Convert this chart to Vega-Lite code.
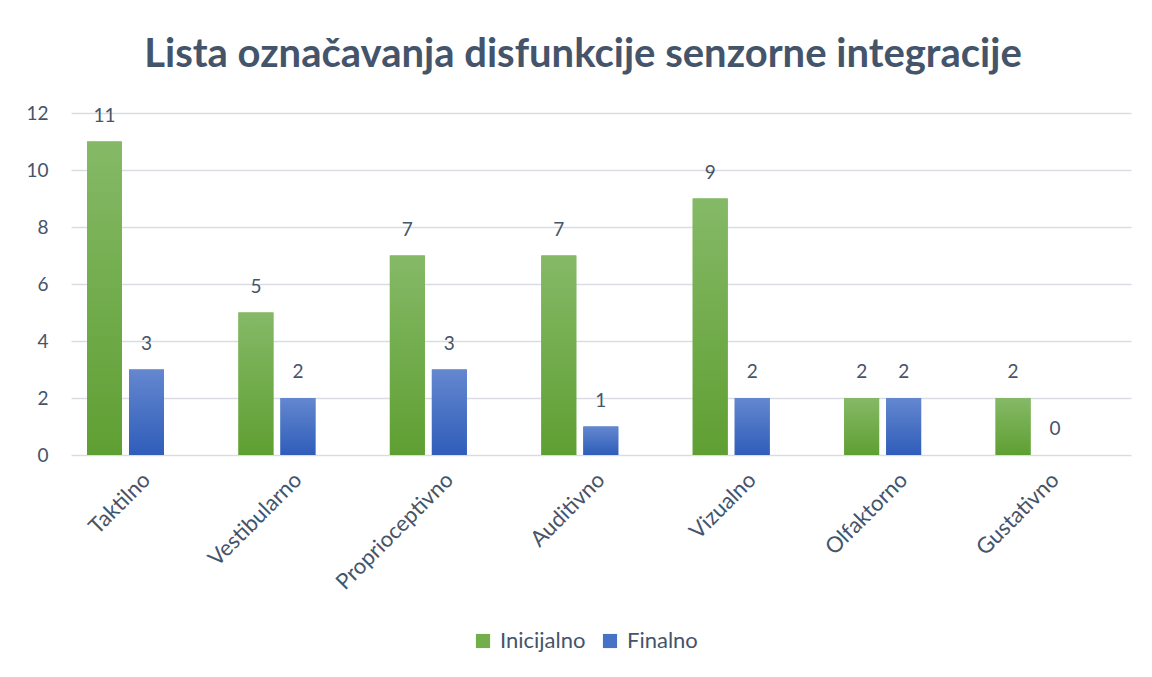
{
  "$schema": "https://vega.github.io/schema/vega-lite/v6.json",
  "width": 1060,
  "height": 342,
  "autosize": {"type": "none"},
  "padding": {"left": 71, "top": 113, "right": 21, "bottom": 222},
  "background": "white",
  "title": {
    "text": "Lista označavanja disfunkcije senzorne integracije",
    "font": "Lato",
    "fontSize": 40,
    "fontWeight": "bold",
    "color": "#44546A",
    "anchor": "middle",
    "baseline": "alphabetic",
    "dx": -18,
    "offset": -3
  },
  "data": {
    "values": [
      {"kategorija": "Taktilno", "serija": "Inicijalno", "vrijednost": 11},
      {"kategorija": "Taktilno", "serija": "Finalno", "vrijednost": 3},
      {"kategorija": "Vestibularno", "serija": "Inicijalno", "vrijednost": 5},
      {"kategorija": "Vestibularno", "serija": "Finalno", "vrijednost": 2},
      {"kategorija": "Proprioceptivno", "serija": "Inicijalno", "vrijednost": 7},
      {"kategorija": "Proprioceptivno", "serija": "Finalno", "vrijednost": 3},
      {"kategorija": "Auditivno", "serija": "Inicijalno", "vrijednost": 7},
      {"kategorija": "Auditivno", "serija": "Finalno", "vrijednost": 1},
      {"kategorija": "Vizualno", "serija": "Inicijalno", "vrijednost": 9},
      {"kategorija": "Vizualno", "serija": "Finalno", "vrijednost": 2},
      {"kategorija": "Olfaktorno", "serija": "Inicijalno", "vrijednost": 2},
      {"kategorija": "Olfaktorno", "serija": "Finalno", "vrijednost": 2},
      {"kategorija": "Gustativno", "serija": "Inicijalno", "vrijednost": 2},
      {"kategorija": "Gustativno", "serija": "Finalno", "vrijednost": 0}
    ]
  },
  "encoding": {
    "x": {
      "field": "kategorija",
      "type": "nominal",
      "sort": null,
      "scale": {"paddingInner": 0, "paddingOuter": 0},
      "axis": {
        "title": null,
        "labelAngle": -45,
        "labelAlign": "right",
        "labelBaseline": "middle",
        "labelPadding": 21,
        "labelFont": "Lato",
        "labelFontSize": 22,
        "labelColor": "#44546A",
        "labelLimit": 400,
        "ticks": false,
        "domain": false,
        "grid": false
      }
    },
    "xOffset": {
      "field": "serija",
      "type": "nominal",
      "sort": ["Inicijalno", "Finalno"],
      "scale": {"domain": ["Inicijalno", "Finalno"], "paddingInner": 0.1667, "paddingOuter": 0.886, "align": 0.215}
    },
    "y": {
      "field": "vrijednost",
      "type": "quantitative",
      "scale": {"domain": [0, 12], "nice": false},
      "axis": {
        "title": null,
        "values": [0, 2, 4, 6, 8, 10, 12],
        "labelFont": "Lato",
        "labelFontSize": 19,
        "labelColor": "#44546A",
        "labelPadding": 23,
        "ticks": false,
        "domain": false,
        "grid": true,
        "gridColor": "#D9DDE3",
        "gridWidth": 1.5
      }
    }
  },
  "layer": [
    {
      "mark": {"type": "bar"},
      "encoding": {
        "color": {
          "field": "serija",
          "type": "nominal",
          "sort": ["Inicijalno", "Finalno"],
          "scale": {
            "domain": ["Inicijalno", "Finalno"],
            "range": ["#72AF4B", "#4773C6"]
          },
          "legend": {
            "title": null,
            "orient": "none",
            "legendX": 401,
            "legendY": 517,
            "direction": "horizontal",
            "symbolType": "square",
            "symbolSize": 200,
            "symbolStrokeWidth": 0,
            "symbolOpacity": 1,
            "labelFont": "Lato",
            "labelFontSize": 22,
            "labelColor": "#44546A",
            "columnPadding": 13,
            "labelOffset": 6
          }
        }
      }
    },
    {
      "transform": [{"filter": "datum.serija === 'Inicijalno'"}],
      "mark": {
        "type": "bar",
        "color": {"gradient": "linear", "x1": 0, "y1": 0, "x2": 0, "y2": 1, "stops": [{"offset": 0, "color": "#85B967"}, {"offset": 1, "color": "#5F9F32"}]}
      },
      "encoding": {}
    },
    {
      "transform": [{"filter": "datum.serija === 'Finalno'"}],
      "mark": {
        "type": "bar",
        "color": {"gradient": "linear", "x1": 0, "y1": 0, "x2": 0, "y2": 1, "stops": [{"offset": 0, "color": "#6487CF"}, {"offset": 1, "color": "#2F5DBA"}]}
      },
      "encoding": {}
    },
    {
      "mark": {"type": "text", "baseline": "bottom", "dy": -16, "font": "Lato", "fontSize": 19, "color": "#44546A"},
      "encoding": {
        "text": {"field": "vrijednost", "type": "quantitative"}
      }
    }
  ],
  "config": {
    "view": {"stroke": null}
  }
}
